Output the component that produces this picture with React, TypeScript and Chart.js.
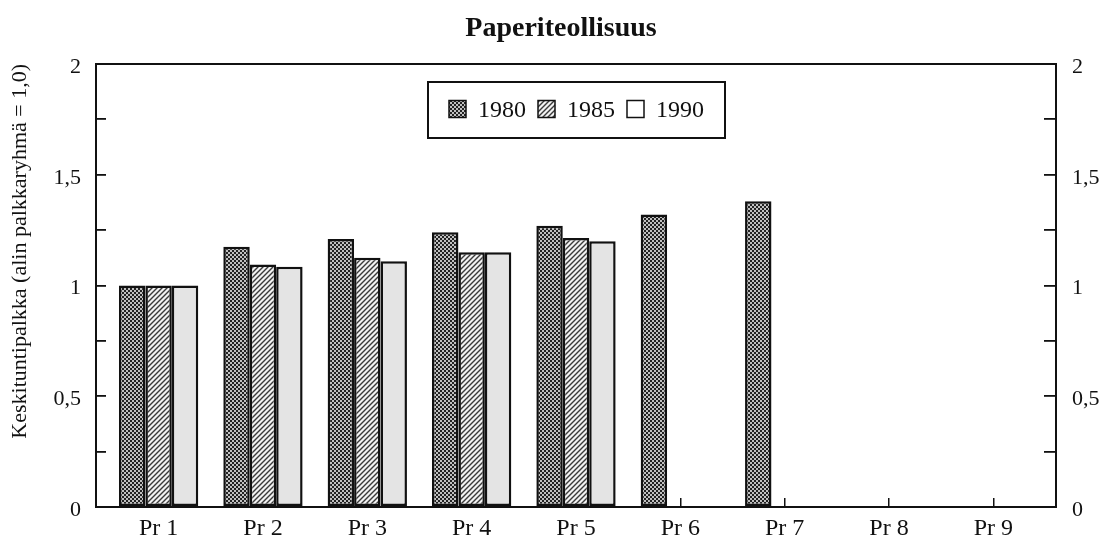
import React, { useEffect, useRef } from 'react';
import { Chart, registerables } from 'chart.js';

Chart.register(...registerables);

// ---------- data ----------
const CHART_TITLE = 'Paperiteollisuus';
const Y_TITLE = 'Keskituntipalkka (alin palkkaryhmä = 1,0)';
const CATEGORIES = ['Pr 1', 'Pr 2', 'Pr 3', 'Pr 4', 'Pr 5', 'Pr 6', 'Pr 7', 'Pr 8', 'Pr 9'];
const SERIES_LABELS = ['1980', '1985', '1990'];
const VALUES_1980: (number | null)[] = [1.0, 1.175, 1.21, 1.24, 1.27, 1.32, 1.38, null, null];
const VALUES_1985: (number | null)[] = [1.0, 1.095, 1.125, 1.15, 1.215, null, null, null, null];
const VALUES_1990: (number | null)[] = [1.0, 1.085, 1.11, 1.15, 1.2, null, null, null, null];
const Y_MIN = 0;
const Y_MAX = 2;
const Y_STEP = 0.25;
const Y_LABEL_STEP = 0.5;

// ---------- styles ----------
const FONT = "'Liberation Serif', 'Times New Roman', serif";
const INK = '#111111';

function makeChecker(): CanvasPattern | string {
  const c = document.createElement('canvas');
  c.width = 4;
  c.height = 4;
  const g = c.getContext('2d');
  if (!g) return '#666';
  g.fillStyle = '#222222';
  g.fillRect(0, 0, 4, 4);
  g.fillStyle = '#c0c0c0';
  g.fillRect(0, 0, 2, 2);
  g.fillRect(2, 2, 2, 2);
  return g.createPattern(c, 'repeat') || '#666';
}

function makeHatch(): CanvasPattern | string {
  const n = 5;
  const c = document.createElement('canvas');
  c.width = n;
  c.height = n;
  const g = c.getContext('2d');
  if (!g) return '#999';
  g.fillStyle = '#f2f2f2';
  g.fillRect(0, 0, n, n);
  g.strokeStyle = '#3a3a3a';
  g.lineWidth = 1.4;
  g.beginPath();
  g.moveTo(0, n);
  g.lineTo(n, 0);
  g.moveTo(-1, 1);
  g.lineTo(1, -1);
  g.moveTo(n - 1, n + 1);
  g.lineTo(n + 1, n - 1);
  g.stroke();
  return g.createPattern(c, 'repeat') || '#999';
}

const yLabel = (v: number) => {
  const r = v / Y_LABEL_STEP;
  if (Math.abs(r - Math.round(r)) > 1e-6) return '';
  return String(Math.round(v * 100) / 100).replace('.', ',');
};

export default function App() {
  const ref = useRef<HTMLCanvasElement | null>(null);

  useEffect(() => {
    document.body.style.margin = '0';
    const canvas = ref.current;
    if (!canvas) return;
    Chart.defaults.font.family = FONT;

    const checker = makeChecker();
    const hatch = makeHatch();
    const fills = [checker, hatch, '#e4e4e4'];
    const legendFills = [checker, hatch, '#ffffff'];
    const seriesValues = [VALUES_1980, VALUES_1985, VALUES_1990];

    const boxLegend = {
      id: 'boxLegend',
      afterDatasetsDraw(chart: any) {
        const { ctx, chartArea } = chart;
        ctx.save();
        ctx.font = `24px ${FONT}`;
        const labels: string[] = chart.data.datasets.map((d: any) => d.label);
        const widths = labels.map((l) => ctx.measureText(l).width);
        const SW = 17, GAP1 = 12, GAP2 = 12, PAD = 21, H = 56;
        const total =
          PAD * 2 + widths.reduce((a, w) => a + SW + GAP1 + w, 0) + GAP2 * (labels.length - 1);
        const left = Math.round((chartArea.left + chartArea.right) / 2 - total / 2);
        const top = chartArea.top + 18;
        ctx.fillStyle = '#ffffff';
        ctx.fillRect(left, top, total, H);
        ctx.lineWidth = 2;
        ctx.strokeStyle = INK;
        ctx.strokeRect(left, top, total, H);
        let x = left + PAD;
        const cy = top + H / 2;
        labels.forEach((l, i) => {
          ctx.fillStyle = legendFills[i];
          ctx.fillRect(x, cy - SW / 2 - 1, SW, SW);
          ctx.lineWidth = 1.5;
          ctx.strokeStyle = INK;
          ctx.strokeRect(x, cy - SW / 2 - 1, SW, SW);
          x += SW + GAP1;
          ctx.fillStyle = INK;
          ctx.textBaseline = 'middle';
          ctx.textAlign = 'left';
          ctx.fillText(l, x, cy + 1);
          x += widths[i] + GAP2;
        });
        ctx.restore();
      },
    };

    const yTicks = (pad: number) => ({
      stepSize: Y_STEP,
      autoSkip: false,
      padding: pad,
      labelOffset: 3,
      color: INK,
      font: { size: 22, family: FONT },
      callback: (v: any) => yLabel(Number(v)),
    });

    const yFit = (w: number) => (scale: any) => {
      scale.width = w;
      scale.paddingTop = 0;
      scale.paddingBottom = 0;
    };

    const chart = new Chart(canvas, {
      type: 'bar',
      data: {
        datasets: SERIES_LABELS.map((label, s) => ({
          label,
          data: seriesValues[s].map((v, i) => ({ x: i, y: v })),
          backgroundColor: fills[s],
          borderColor: INK,
          borderWidth: 2.5,
          borderSkipped: false,
          categoryPercentage: 0.76,
          barPercentage: 1.0,
          xAxisID: 'x',
          yAxisID: 'y',
        })) as any,
      },
      options: {
        animation: false,
        responsive: true,
        maintainAspectRatio: false,
        layout: { padding: { left: 19, right: 0, top: 0, bottom: 0 } },
        plugins: {
          legend: { display: false },
          tooltip: { enabled: false },
          title: {
            display: true,
            text: CHART_TITLE,
            color: INK,
            font: { size: 28, weight: 'bold', family: FONT },
            padding: { top: 12, bottom: 18.4 },
          },
        },
        scales: {
          x: {
            type: 'linear',
            position: 'bottom',
            min: -0.6,
            max: 8.6,
            offset: false,
            afterBuildTicks: (scale: any) => {
              scale.ticks = CATEGORIES.map((_, i) => ({ value: i }));
            },
            afterFit: (scale: any) => {
              scale.height = 33;
            },
            ticks: {
              autoSkip: false,
              maxRotation: 0,
              padding: 16,
              color: INK,
              font: { size: 24, family: FONT },
              callback: (v: any) => CATEGORIES[Number(v)] ?? '',
            },
            grid: {
              offset: false,
              drawOnChartArea: false,
              drawTicks: true,
              tickLength: -9,
              color: INK,
              lineWidth: 1.5,
            },
            border: { display: true, color: INK, width: 2 },
          },
          xTop: {
            type: 'linear',
            position: 'top',
            min: -0.6,
            max: 8.6,
            offset: false,
            afterFit: (scale: any) => {
              scale.height = 0;
            },
            ticks: { display: false },
            grid: { drawOnChartArea: false, drawTicks: false },
            border: { display: true, color: INK, width: 2 },
          },
          y: {
            type: 'linear',
            position: 'left',
            min: Y_MIN,
            max: Y_MAX,
            afterFit: yFit(77),
            ticks: yTicks(25) as any,
            grid: {
              drawOnChartArea: false,
              drawTicks: true,
              tickLength: -10,
              color: INK,
              lineWidth: 1.8,
            },
            border: { display: true, color: INK, width: 2 },
            title: {
              display: true,
              text: Y_TITLE,
              align: 'end',
              color: INK,
              font: { size: 22, family: FONT },
              padding: { top: -12, bottom: 0 },
            },
          },
          yRight: {
            type: 'linear',
            position: 'right',
            min: Y_MIN,
            max: Y_MAX,
            afterFit: yFit(47),
            ticks: yTicks(28) as any,
            grid: {
              drawOnChartArea: false,
              drawTicks: true,
              tickLength: -12,
              color: INK,
              lineWidth: 1.8,
            },
            border: { display: true, color: INK, width: 2 },
          },
        },
      } as any,
      plugins: [boxLegend],
    });

    return () => chart.destroy();
  }, []);

  return (
    <div style={{ position: 'relative', width: 1103, height: 540, background: '#ffffff' }}>
      <canvas ref={ref} />
    </div>
  );
}
